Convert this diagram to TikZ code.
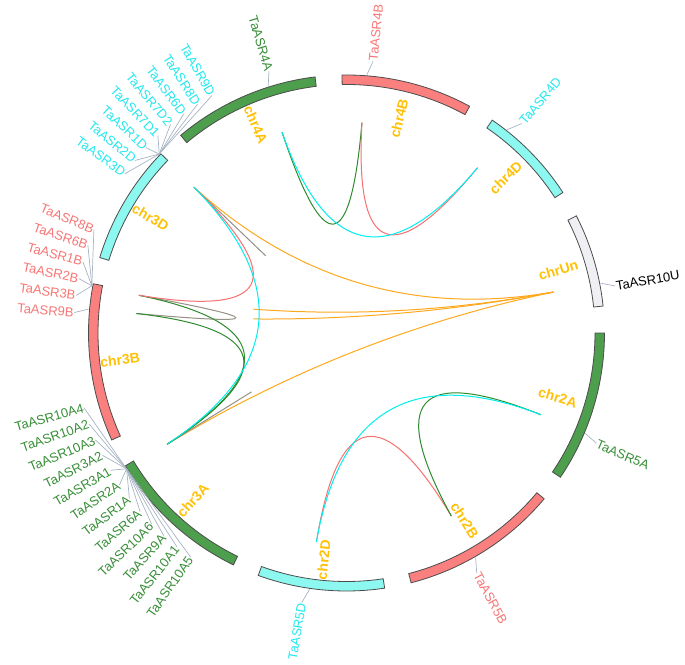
\documentclass[tikz,border=0pt]{standalone}
\usepackage{fontspec}
\setmainfont{Liberation Sans}
\usetikzlibrary{calc}

\definecolor{trkA}{RGB}{77,158,77}
\definecolor{trkB}{RGB}{250,128,128}
\definecolor{trkD}{RGB}{140,248,240}
\definecolor{trkU}{RGB}{240,240,244}
\definecolor{txtA}{RGB}{56,142,56}
\definecolor{txtB}{RGB}{247,118,118}
\definecolor{txtD}{RGB}{35,232,238}
\definecolor{chrgold}{RGB}{255,193,7}
\definecolor{tickgray}{RGB}{168,180,196}
\definecolor{lnkA}{RGB}{46,139,46}
\definecolor{lnkB}{RGB}{246,112,112}
\definecolor{lnkD}{RGB}{0,238,238}
\definecolor{lnkU}{RGB}{255,168,28}
\definecolor{lnkS}{RGB}{150,144,134}

\tikzset{
  track/.style={draw=black!70, line width=0.8pt},
  chrname/.style={text=chrgold, font=\fontsize{14}{16}\selectfont\bfseries, inner sep=0pt},
  genename/.style={font=\fontsize{13}{15}\selectfont, inner sep=0.5pt},
  tick/.style={draw=tickgray, line width=0.7pt},
  link/.style={line width=1pt},
}

% quadratic link, control point pulled slightly off the centre
\newcommand{\chrlink}[3]{%
  \path ($(#2)!0.5!(#3)$) coordinate (m);
  \path ($(c)!0.06!(m)$) coordinate (q);
  \draw[link, #1] (#2) .. controls ($(#2)!0.667!(q)$) and ($(#3)!0.667!(q)$) .. (#3);
}

\begin{document}
\begin{tikzpicture}[x=1pt, y=1pt]
  \useasboundingbox (-346.5,-331) rectangle (338.5,333);
  \coordinate (c) at (0,0);

  % chromosome tracks
  \foreach \cn/\s/\e/\col/\rr/\flip in {4A/97/130/trkA/227.5/180, 3D/136/163/trkD/227.5/180,
      3B/169/204.5/trkB/228/180, 3A/211/244/trkA/227.5/180, 2D/250/278.5/trkD/228/180,
      2B/284.5/320/trkB/221.5/0, 2A/326/360/trkA/221/0, Un/6/27/trkU/221/0,
      4D/33/55.6/trkD/222.5/0, 4B/61.5/91/trkB/221/0} {
    \draw[track, fill=\col] (\s:248.5pt) arc[start angle=\s, end angle=\e, radius=248.5pt]
      -- (\e:258pt) arc[start angle=\e, end angle=\s, radius=258pt] -- cycle;
    \pgfmathsetmacro\m{(\s+\e)/2}
    \node[chrname, rotate=\m+\flip] (chr\cn) at (\m:\rr pt) {chr\cn};
  }

  % single genes
  \foreach \g/\ga/\la/\col/\an/\flip in {4A/107.6/106.5/txtA/east/180, 4B/85.5/84.4/txtB/west/0,
      4D/51.7/50.1/txtD/west/0, 10U/11.1/9.9/black/west/0, 5A/337.2/336.2/txtA/west/0,
      5B/299.9/298.5/txtB/west/0, 5D/261.8/260.6/txtD/east/180} {
    \coordinate (g\g) at (\ga:259pt);
    \node[genename, text=\col, anchor=\an, rotate=\la+\flip] (TaASR\g) at (\la:273pt) {TaASR\g};
    \draw[tick] (g\g) -- (TaASR\g.\an);
  }

  % gene clusters
  \coordinate (g3D) at (136.3:259pt);
  \coordinate (g3Ba) at (169.5:259pt);
  \coordinate (g3Bb) at (174.7:259pt);
  \coordinate (g3A) at (211.7:258.5pt);
  \foreach \g [count=\i from 0] in {9D,8D,6D,7D2,7D1,1D,2D,3D} {
    \pgfmathsetmacro\a{119.5+3.55*\i}
    \node[genename, text=txtD, anchor=east, rotate=\a+180] (TaASR\g) at (\a:273pt) {TaASR\g};
    \draw[tick] (g3D) -- (TaASR\g.east);
  }
  \foreach \g/\gp [count=\i from 0] in {8B/g3Ba, 6B/g3Ba, 1B/g3Ba, 2B/g3Ba, 3B/g3Ba, 9B/g3Bb} {
    \pgfmathsetmacro\a{157.7+3.6*\i}
    \node[genename, text=txtB, anchor=east, rotate=\a+180] (TaASR\g) at (\a:273pt) {TaASR\g};
    \draw[tick] (\gp) -- (TaASR\g.east);
  }
  \foreach \g [count=\i from 0] in {10A4,10A2,10A3,3A2,3A1,2A,1A,6A,10A6,9A,10A1,10A5} {
    \pgfmathsetmacro\a{195.9+3.57*\i}
    \node[genename, text=txtA, anchor=east, rotate=\a+180] (TaASR\g) at (\a:273pt) {TaASR\g};
    \draw[tick] (g3A) -- (TaASR\g.east);
  }

  % link ends
  \coordinate (l4A) at (107.8:211pt);
  \coordinate (l4B) at (85.8:211pt);
  \coordinate (l4D) at (51.6:211pt);
  \coordinate (lUn) at (11.2:211pt);
  \coordinate (l5A) at (337.2:211pt);
  \coordinate (l5B) at (299.8:211pt);
  \coordinate (l5D) at (261.8:211pt);
  \coordinate (l3D) at (136.3:211pt);
  \coordinate (l3Ba) at (169.7:211pt);
  \coordinate (l3Bb) at (174.7:211pt);
  \coordinate (l3A) at (211.8:211pt);

  % links
  \chrlink{lnkU}{l3D}{lUn}
  \chrlink{lnkU}{l3A}{lUn}
  \begin{scope}
    \clip (-93.2,-60) rectangle (230,60);
    \chrlink{lnkU}{l3Ba}{lUn}
    \chrlink{lnkU}{l3Bb}{lUn}
  \end{scope}
  \chrlink{lnkS}{l3D}{l3D}
  \chrlink{lnkS}{l3A}{l3A}
  \chrlink{lnkS}{l3Ba}{l3Bb}
  \chrlink{lnkA}{l3Ba}{l3A}
  \chrlink{lnkA}{l3Bb}{l3A}
  \chrlink{lnkB}{l3D}{l3Ba}
  \chrlink{lnkD}{l3D}{l3A}
  \chrlink{lnkA}{l4A}{l4B}
  \chrlink{lnkB}{l4B}{l4D}
  \chrlink{lnkD}{l4A}{l4D}
  \chrlink{lnkB}{l5D}{l5B}
  \chrlink{lnkA}{l5B}{l5A}
  \chrlink{lnkD}{l5D}{l5A}
\end{tikzpicture}
\end{document}
